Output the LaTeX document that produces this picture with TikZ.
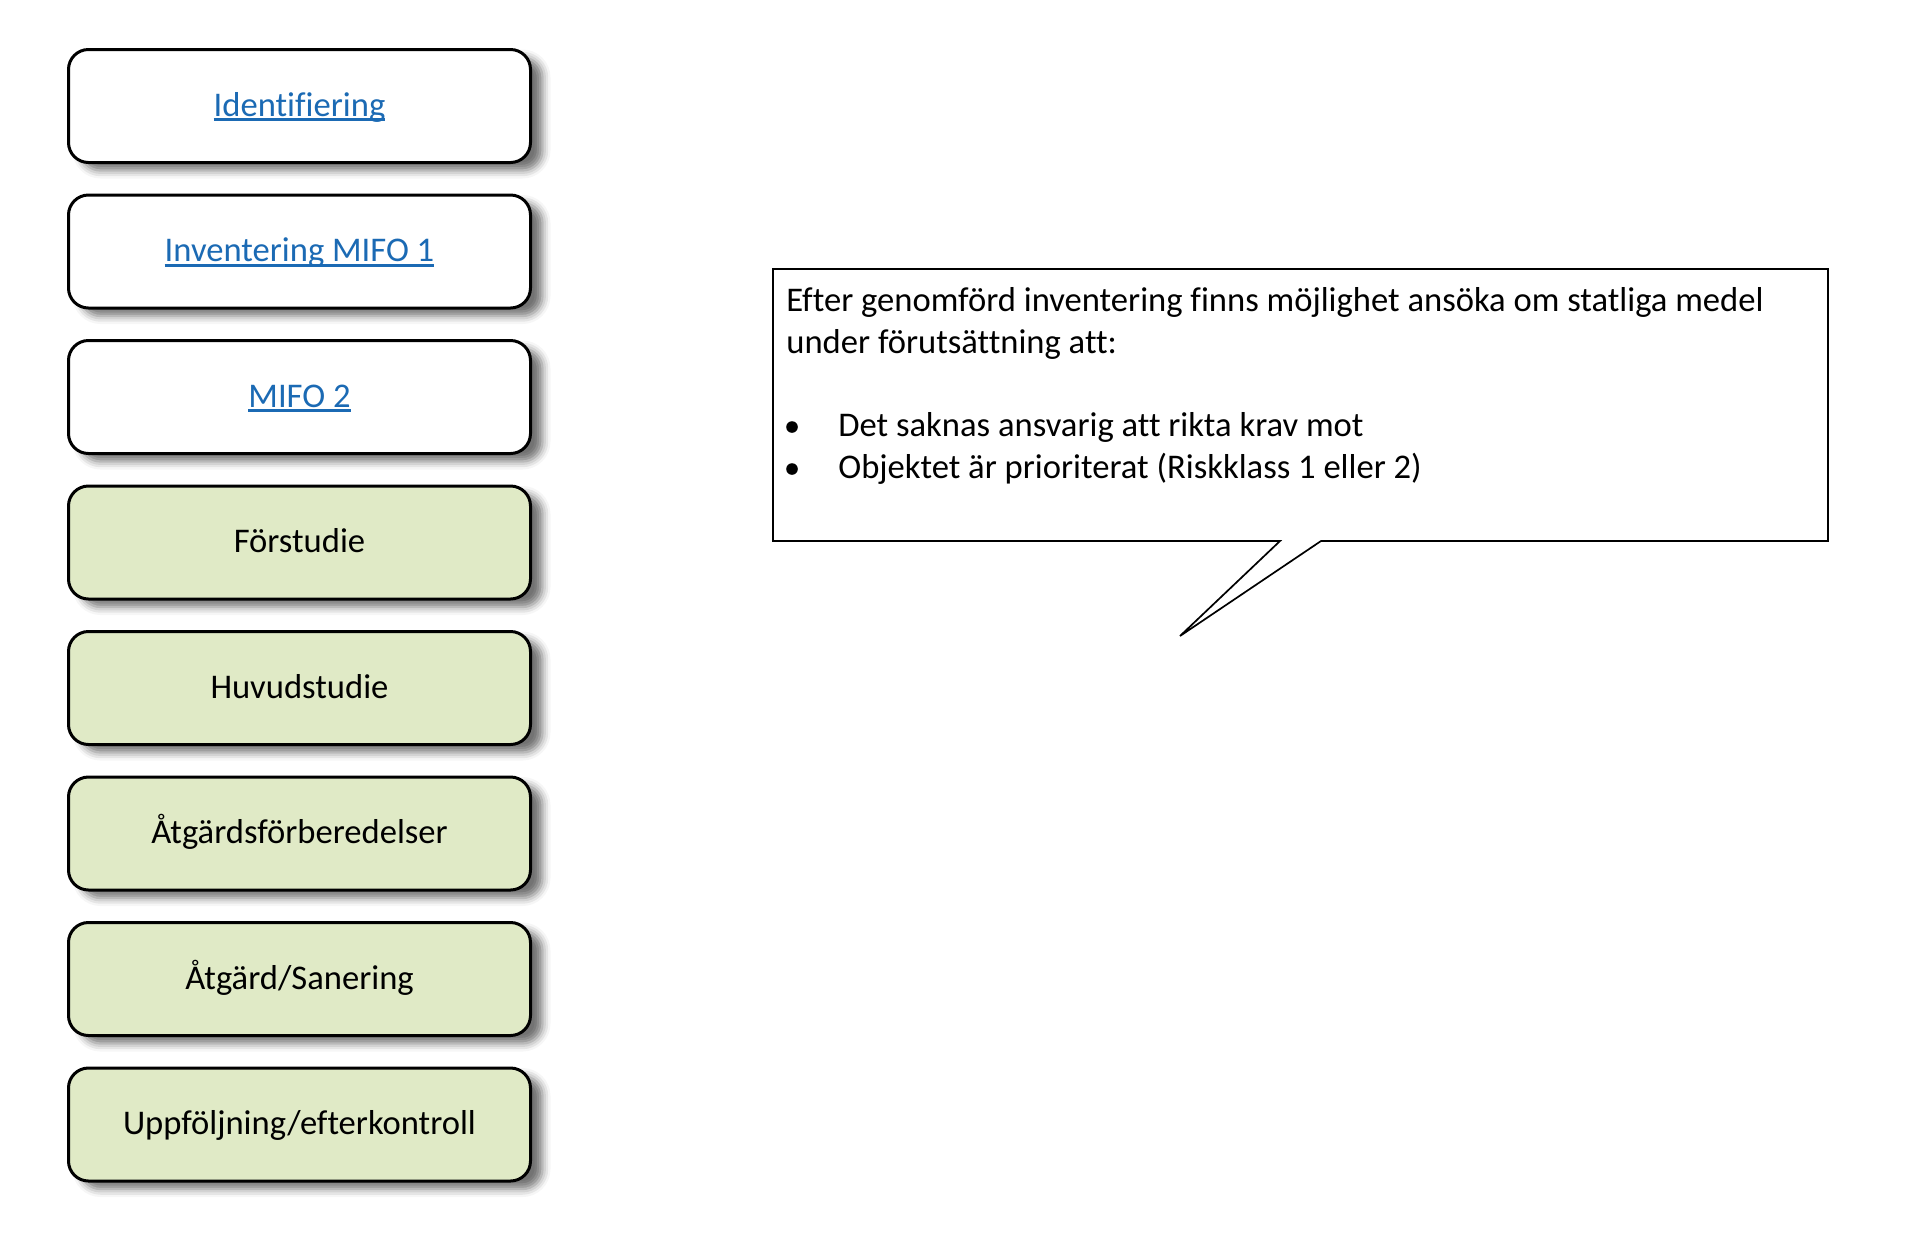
\documentclass[tikz,border=0pt]{standalone}
\usepackage{fontspec}
\setmainfont{Carlito}[Ligatures=NoCommon]
\usetikzlibrary{shadows.blur}
\definecolor{boxgreen}{HTML}{E0EAC6}
\definecolor{linkblue}{HTML}{1B6AB4}
\newcommand\mylink[1]{\textcolor{linkblue}{\setbox0\hbox{#1}\rlap{\rule[-0.15em]{\wd0}{0.08em}}\box0}}
\begin{document}
\begin{tikzpicture}[x=0.5pt,y=-0.5pt,
  stage/.style={draw=black, line width=1.5pt, rounded corners=10pt,
    minimum width=231pt, minimum height=56.5pt, inner sep=0pt,
    text height=12pt, text depth=2pt,
    font=\fontsize{17.3}{20}\selectfont,
    blur shadow={shadow xshift=6pt, shadow yshift=-4pt, shadow blur radius=4pt, shadow opacity=55}},
  linkstage/.style={stage, fill=white},
  workstage/.style={stage, fill=boxgreen},
  calltext/.style={anchor=base west, inner sep=0pt, font=\fontsize{17.3}{20}\selectfont},
  bulletdot/.style={circle, fill=black, inner sep=0pt, minimum size=5.8pt}]
\path[use as bounding box] (0,0) rectangle (1906,1249);

\node[linkstage] (s1) at (299.5,106) {\mylink{Identifiering}};
\node[linkstage] (s2) at (299.5,251.5) {\mylink{Inventering MIFO 1}};
\node[linkstage] (s3) at (299.5,397) {\mylink{MIFO 2}};
\node[workstage] (s4) at (299.5,542.5) {Förstudie};
\node[workstage] (s5) at (299.5,688) {Huvudstudie};
\node[workstage] (s6) at (299.5,833.5) {Åtgärdsförberedelser};
\node[workstage] (s7) at (299.5,979) {Åtgärd/Sanering};
\node[workstage] (s8) at (299.5,1124.5) {Uppföljning/efterkontroll};

\coordinate (tip) at (1180,636);
\draw[line width=0.85pt, fill=white] (773,269) -- (1828,269) -- (1828,541) -- (1321,541) -- (tip) -- (1280,541) -- (773,541) -- cycle;

\node[calltext] (t1) at (786,311.5) {Efter genomförd inventering finns möjlighet ansöka om statliga medel};
\node[calltext] (t2) at (786,353.2) {under förutsättning att:};
\node[bulletdot] (b1) at (792,427) {};
\node[calltext] (t3) at (838,436.5) {Det saknas ansvarig att rikta krav mot};
\node[bulletdot] (b2) at (792,469) {};
\node[calltext] (t4) at (838,478.2) {Objektet är prioriterat (Riskklass 1 eller 2)};
\end{tikzpicture}
\end{document}
